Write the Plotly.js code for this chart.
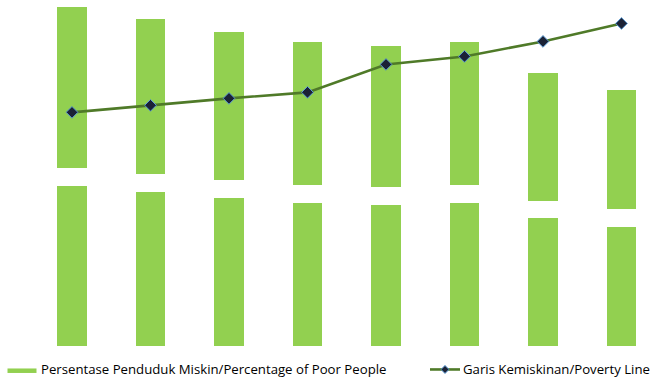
<!DOCTYPE html>
<html>
<head>
<meta charset="utf-8">
<script src="https://cdn.plot.ly/plotly-3.0.1.min.js"></script>
<style>html,body{margin:0;padding:0;background:#fff;}#chart{width:653px;height:380px;}</style>
</head>
<body>
<div id="chart"></div>
<script>
// Categories (periods; labels are not shown in the reference)
const categories = ["P1", "P2", "P3", "P4", "P5", "P6", "P7", "P8"];
// Persentase Penduduk Miskin / Percentage of Poor People (%)
const poorPct = [16.07, 15.46, 14.84, 14.31, 14.11, 14.32, 12.77, 11.91];
// Garis Kemiskinan / Poverty Line (thousand Rp)
const povertyLine = [234, 241, 248, 254, 282, 290, 305, 323];

const barName = "Persentase Penduduk Miskin/Percentage of Poor People";
const lineName = "Garis Kemiskinan/Poverty Line";

const barColor = "#92D050";
const lineColor = "#4F7A28";
const gap = poorPct.map(() => 1.8);

const W = 653, H = 380, plotBottom = 346.5;
const px = v => v / W;
const py = v => (plotBottom - v) / plotBottom;

const traces = [
  {type: "bar", x: categories, y: poorPct, name: barName, marker: {color: barColor},
   width: 0.38, showlegend: false, hoverinfo: "y"},
  {type: "bar", x: categories, y: gap, marker: {color: "rgba(255,255,255,1)"},
   width: 0.38, showlegend: false, hoverinfo: "skip"},
  {type: "bar", x: categories, y: poorPct, marker: {color: barColor},
   width: 0.38, showlegend: false, hoverinfo: "skip"},
  {type: "scatter", mode: "lines+markers", x: categories, y: povertyLine, yaxis: "y2",
   name: lineName, showlegend: false,
   line: {color: lineColor, width: 2.6},
   marker: {symbol: "diamond", size: 9, color: "#1B2236", line: {color: "#5B9BD5", width: 1}}}
];

const layout = {
  width: W, height: H,
  margin: {l: 0, r: 0, t: 0, b: H - plotBottom, pad: 0},
  paper_bgcolor: "#fff", plot_bgcolor: "#fff",
  barmode: "stack",
  showlegend: false,
  font: {family: "Open Sans, sans-serif", size: 13.2, color: "#000"},
  xaxis: {type: "category", range: [-72 / 78.5, 7 + (W - 621.5) / 78.5], showticklabels: false,
          showgrid: false, zeroline: false, showline: false, ticks: ""},
  yaxis: {range: [0, plotBottom / 10], visible: false, showgrid: false, zeroline: false},
  yaxis2: {range: [0, plotBottom], overlaying: "y", side: "right", visible: false,
           showgrid: false, zeroline: false},
  shapes: [
    {type: "rect", xref: "paper", yref: "paper", x0: px(7.5), x1: px(36.5), y0: py(373.5), y1: py(369),
     fillcolor: barColor, line: {width: 0}},
    {type: "line", xref: "paper", yref: "paper", x0: px(430), x1: px(460), y0: py(370), y1: py(370),
     line: {color: lineColor, width: 2.6}},
    {type: "path", xref: "paper", yref: "paper",
     path: `M ${px(441)} ${py(370)} L ${px(445)} ${py(366)} L ${px(449)} ${py(370)} L ${px(445)} ${py(374)} Z`,
     fillcolor: "#1B2236", line: {color: "#5B9BD5", width: 1}}
  ],
  annotations: [
    {xref: "paper", yref: "paper", x: px(38.5), y: py(370), xanchor: "left", yanchor: "middle",
     text: barName, showarrow: false, font: {size: 13.2, color: "#000"}},
    {xref: "paper", yref: "paper", x: px(460.5), y: py(370), xanchor: "left", yanchor: "middle",
     text: lineName, showarrow: false, font: {size: 13.2, color: "#000"}}
  ]
};

Plotly.newPlot("chart", traces, layout, {displayModeBar: false, staticPlot: true});
</script>
</body>
</html>
